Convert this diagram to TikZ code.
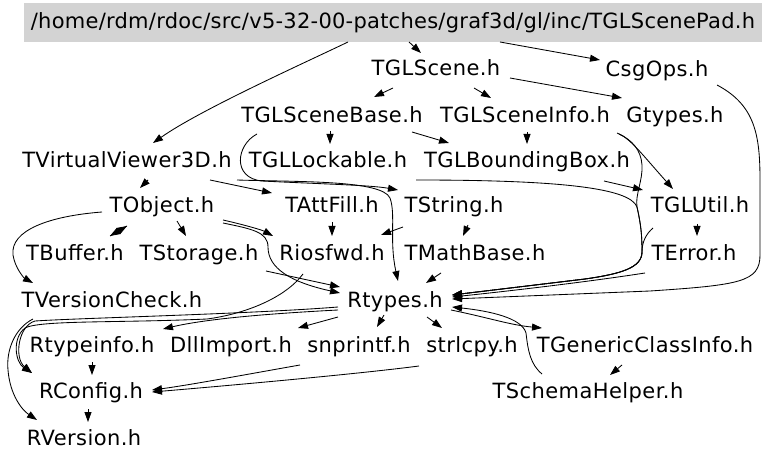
\documentclass[tikz,border=0pt]{standalone}
\usepackage{fontspec}
\newfontfamily\dfont{DejaVu Sans}[LetterSpace=2]
\newfontfamily\tfont{DejaVu Sans}[LetterSpace=1.2]
\usetikzlibrary{arrows.meta}
\definecolor{titlegray}{RGB}{211,211,211}
\begin{document}
\begin{tikzpicture}[x=1pt,y=-1pt,
  lbl/.style={anchor=base,inner sep=0pt,font=\dfont\fontsize{21}{25}\selectfont},
  dep/.style={draw=black,line width=0.85pt,-{Triangle[length=10pt,width=7pt]}}]
\useasboundingbox (0,0) rectangle (768,462);
\node[fill=titlegray,minimum width=738pt,minimum height=39pt,inner sep=0pt,text height=16pt,text depth=3pt,font=\tfont\fontsize{21}{25}\selectfont] (title) at (393,22.5) {/home/rdm/rdoc/src/v5-32-00-patches/graf3d/gl/inc/TGLScenePad.h};
\node[lbl] (tglscene) at (436,76) {TGLScene.h};
\node[lbl] (csgops) at (657,77) {CsgOps.h};
\node[lbl] (sbase) at (332,123) {TGLSceneBase.h};
\node[lbl] (sinfo) at (525,123) {TGLSceneInfo.h};
\node[lbl] (gtypes) at (675,123) {Gtypes.h};
\node[lbl] (vv3d) at (127,168) {TVirtualViewer3D.h};
\node[lbl] (lockable) at (328,168) {TGLLockable.h};
\node[lbl] (bbox) at (527,168) {TGLBoundingBox.h};
\node[lbl] (tobject) at (162,213) {TObject.h};
\node[lbl] (attfill) at (332,213) {TAttFill.h};
\node[lbl] (tstring) at (454,213) {TString.h};
\node[lbl] (glutil) at (700,213) {TGLUtil.h};
\node[lbl] (tbuffer) at (75,261) {TBuffer.h};
\node[lbl] (tstorage) at (199,261) {TStorage.h};
\node[lbl] (riosfwd) at (332,261) {Riosfwd.h};
\node[lbl] (mathbase) at (475,261) {TMathBase.h};
\node[lbl] (terror) at (694,261) {TError.h};
\node[lbl] (tvcheck) at (112,307) {TVersionCheck.h};
\node[lbl] (rtypes) at (395,307) {Rtypes.h};
\node[lbl] (rtypeinfo) at (92,352) {Rtypeinfo.h};
\node[lbl] (dllimport) at (231,352) {DllImport.h};
\node[lbl] (snprintf) at (359,352) {snprintf.h};
\node[lbl] (strlcpy) at (472,352) {strlcpy.h};
\node[lbl] (tgci) at (645,352) {TGenericClassInfo.h};
\node[lbl] (rconfig) at (91,398) {RConfig.h};
\node[lbl] (schema) at (588,398) {TSchemaHelper.h};
\node[lbl] (rversion) at (84,445) {RVersion.h};
% edges
\draw[dep] ([shift={(16,19.5)}]title.center) -- ([shift={(-15,-23)}]tglscene.base);
\draw[dep] ([shift={(107,19.5)}]title.center) -- ([shift={(-57,-17)}]csgops.base);
\draw[dep] ([shift={(-45,19.5)}]title.center) .. controls (300,65) and (200,110) .. ([shift={(26,-25)}]vv3d.base);
\draw[dep] ([shift={(-43,12)}]tglscene.base) -- ([shift={(42,-26)}]sbase.base);
\draw[dep] ([shift={(38,12)}]tglscene.base) -- ([shift={(-34,-25)}]sinfo.base);
\draw[dep] ([shift={(74,2)}]tglscene.base) -- ([shift={(-53,-25)}]gtypes.base);
\draw[dep] ([shift={(60,8)}]csgops.base) .. controls (755,105) and (760,135) .. (760,180) -- (760,255) .. controls (760,282) and (740,285) .. (650,291) -- ([shift={(57,-8)}]rtypes.base);
\draw[dep] ([shift={(-2,8)}]sbase.base) -- ([shift={(2,-24)}]lockable.base);
\draw[dep] ([shift={(80,9)}]sbase.base) -- ([shift={(-78,-25)}]bbox.base);
\draw[dep] ([shift={(-75,11)}]sbase.base) .. controls (236,145) and (232,178) .. (262,181) .. controls (320,184) and (370,185) .. ([shift={(-56,-23)}]tstring.base);
\draw[dep] ([shift={(110,12)}]vv3d.base) .. controls (300,182) and (382,180) .. (390,198) .. controls (396,215) and (389,240) .. ([shift={(3,-26)}]rtypes.base);
\draw[dep] ([shift={(21,12)}]vv3d.base) -- ([shift={(-22,-25)}]tobject.base);
\draw[dep] ([shift={(83,12)}]vv3d.base) -- ([shift={(-60,-20)}]attfill.base);
\draw[dep] ([shift={(88,12)}]lockable.base) .. controls (560,180) and (630,188) .. (637,207) .. controls (641,225) and (642,235) .. (642,252) .. controls (642,268) and (620,274) .. (585,279) -- ([shift={(57,-12)}]rtypes.base);
\draw[dep] ([shift={(-56,11)}]gtypes.base) .. controls (632,140) and (641,150) .. (642,165) .. controls (643,180) and (635,195) .. (637,207) .. controls (641,225) and (642,235) .. (642,252) .. controls (642,268) and (620,274) .. (585,279) -- ([shift={(57,-12)}]rtypes.base);
\draw[dep] ([shift={(-47,15)}]glutil.base) .. controls (646,234) and (642,242) .. (642,252) .. controls (642,268) and (620,274) .. (585,279) -- ([shift={(57,-12)}]rtypes.base);
\draw[dep] ([shift={(92,10)}]sinfo.base) .. controls (630,138) and (640,152) .. ([shift={(-27,-24)}]glutil.base);
\draw[dep] ([shift={(77,13)}]bbox.base) -- ([shift={(-57,-23)}]glutil.base);
\draw[dep] ([shift={(2,9)}]sinfo.base) -- ([shift={(0,-24)}]bbox.base);
\draw[dep] ([shift={(-3,11)}]glutil.base) -- ([shift={(3,-25)}]terror.base);
\draw[dep] ([shift={(-49,12)}]terror.base) .. controls (580,283) and (500,292) .. ([shift={(57,-10)}]rtypes.base);
\draw[dep] ([shift={(-35,13)}]tobject.base) -- ([shift={(35,-25)}]tbuffer.base);
\draw[dep] ([shift={(35,-25)}]tbuffer.base) -- ([shift={(-35,13)}]tobject.base);
\draw[dep] ([shift={(15,8)}]tobject.base) -- ([shift={(-13,-25)}]tstorage.base);
\draw[dep] ([shift={(-60,-1)}]tobject.base) .. controls (50,216) and (10,230) .. (13,255) .. controls (15,268) and (24,278) .. ([shift={(-79,-24)}]tvcheck.base);
\draw[dep] ([shift={(61,7)}]tobject.base) .. controls (245,225) and (262,230) .. ([shift={(-59,-25)}]riosfwd.base);
\draw[dep] ([shift={(61,10)}]tobject.base) .. controls (252,229) and (268,232) .. (268,247) .. controls (268,268) and (290,282) .. ([shift={(-55,-14)}]rtypes.base);
\draw[dep] ([shift={(67,10)}]tstorage.base) -- ([shift={(-55,-20)}]rtypes.base);
\draw[dep] ([shift={(0,9)}]attfill.base) -- ([shift={(0,-25)}]riosfwd.base);
\draw[dep] ([shift={(-51,14)}]tstring.base) -- ([shift={(49,-26)}]riosfwd.base);
\draw[dep] ([shift={(14,12)}]tstring.base) -- ([shift={(-12,-25)}]mathbase.base);
\draw[dep] ([shift={(-34,12)}]mathbase.base) -- ([shift={(31,-24)}]rtypes.base);
\draw[dep] ([shift={(-29,13)}]riosfwd.base) .. controls (285,298) and (245,314) .. (207,319) .. controls (120,323) and (40,320) .. (25,328) .. controls (12,338) and (15,362) .. ([shift={(-59,-25)}]rconfig.base);
\draw[dep] ([shift={(-57,0)}]rtypes.base) .. controls (250,314) and (80,318) .. (35,321) .. controls (18,326) and (14,358) .. ([shift={(-59,-25)}]rconfig.base);
\draw[dep] ([shift={(-57,3)}]rtypes.base) .. controls (280,313) and (210,318) .. ([shift={(71,-23)}]rtypeinfo.base);
\draw[dep] ([shift={(-57,10)}]rtypes.base) -- ([shift={(67,-24)}]dllimport.base);
\draw[dep] ([shift={(-11,8)}]rtypes.base) -- ([shift={(18,-25)}]snprintf.base);
\draw[dep] ([shift={(32,10)}]rtypes.base) -- ([shift={(-30,-24)}]strlcpy.base);
\draw[dep] ([shift={(56,3)}]rtypes.base) .. controls (490,318) and (510,325) .. ([shift={(-103,-24)}]tgci.base);
\draw[dep] ([shift={(-46,-24)}]schema.base) .. controls (530,364) and (528,350) .. (526,333) .. controls (522,318) and (490,311) .. ([shift={(57,0)}]rtypes.base);
\draw[dep] ([shift={(-23,13)}]tgci.base) -- ([shift={(22,-23)}]schema.base);
\draw[dep] ([shift={(0,10)}]rtypeinfo.base) -- ([shift={(1,-23)}]rconfig.base);
\draw[dep] ([shift={(-3,11)}]rconfig.base) -- ([shift={(4,-23)}]rversion.base);
\draw[dep] ([shift={(-79,12)}]tvcheck.base) .. controls (15,328) and (6,350) .. (8,370) .. controls (10,395) and (22,410) .. ([shift={(-47,-25)}]rversion.base);
\draw[dep] ([shift={(-59,13)}]snprintf.base) .. controls (260,372) and (190,385) .. ([shift={(61,-8)}]rconfig.base);
\draw[dep] ([shift={(-53,14)}]strlcpy.base) .. controls (350,375) and (200,388) .. ([shift={(61,-6)}]rconfig.base);
\end{tikzpicture}
\end{document}
